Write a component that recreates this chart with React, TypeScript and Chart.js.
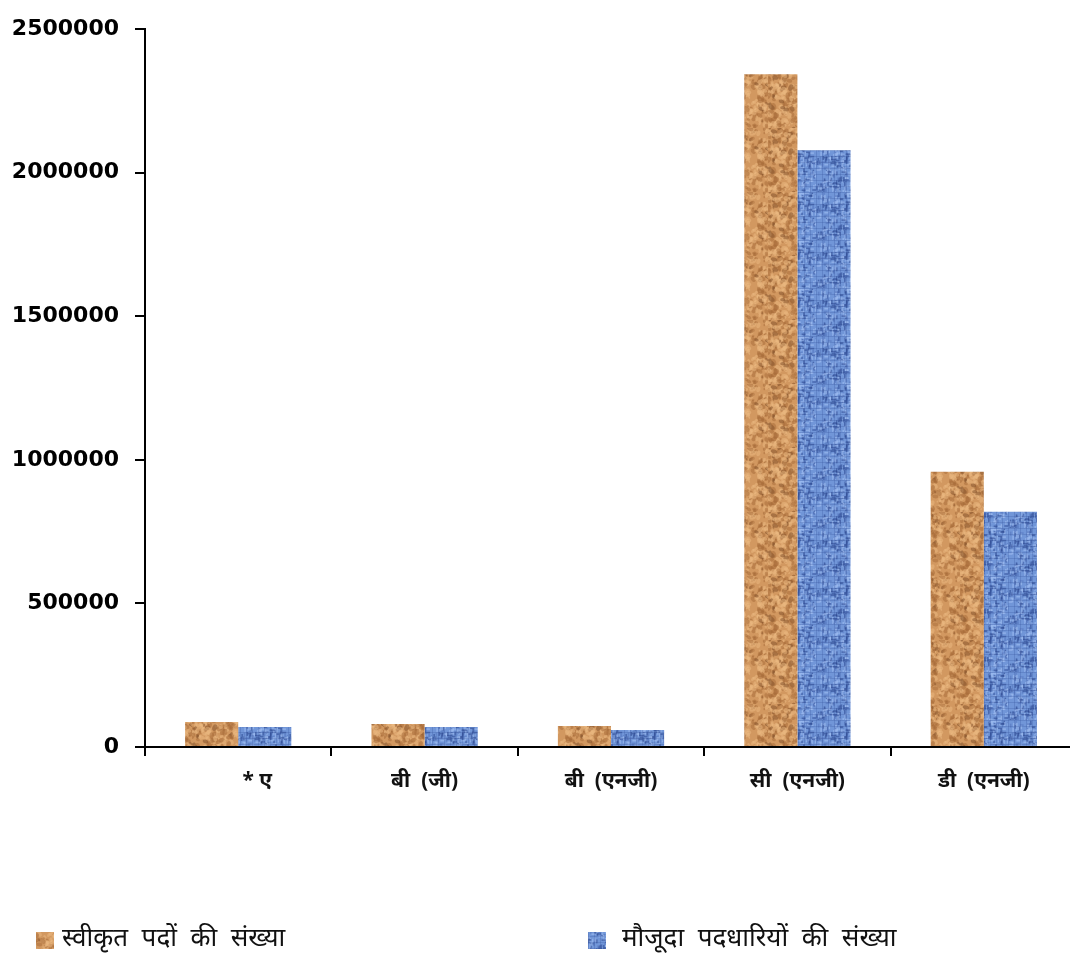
import React, { useEffect, useRef } from 'react';
import { Chart, registerables } from 'chart.js';

Chart.register(...registerables);

// categories and series
const categories = ['       * ए', 'बी  (जी)', 'बी  (एनजी)', 'सी  (एनजी)', 'डी  (एनजी)'];
const sanctionedPosts = [87000, 80000, 73000, 2343000, 959000];
const currentIncumbents = [70000, 70000, 59000, 2078000, 819000];
const seriesNames = ['स्वीकृत  पदों  की  संख्या', 'मौजूदा  पदधारियों  की  संख्या'];
const yTicks = [0, 500000, 1000000, 1500000, 2000000, 2500000];

const HINDI_FONT = "'Noto Sans', 'Lohit Devanagari', 'Noto Sans Devanagari', 'Liberation Sans', sans-serif";

// small deterministic hash for texture noise (styling only)
const hash = (x: number, y: number, s: number) => {
  let h = (x * 374761393 + y * 668265263 + s * 1442695041) | 0;
  h = (h ^ (h >>> 13)) * 1274126177;
  h = h ^ (h >>> 16);
  return ((h >>> 0) % 1000) / 1000;
};

// cork-like brown texture
function makeCork(): CanvasPattern | string {
  const c = document.createElement('canvas');
  c.width = 64;
  c.height = 64;
  const ctx = c.getContext('2d');
  if (!ctx) return '#d39b63';
  ctx.fillStyle = '#d29860';
  ctx.fillRect(0, 0, 64, 64);
  for (let i = 0; i < 420; i++) {
    const x = hash(i, 1, 3) * 64;
    const y = hash(i, 2, 5) * 64;
    const r = 0.8 + hash(i, 3, 7) * 1.6;
    const v = hash(i, 4, 9);
    ctx.fillStyle =
      v < 0.38 ? 'rgba(165,105,55,0.5)' : v < 0.48 ? 'rgba(125,75,38,0.5)' : 'rgba(236,186,130,0.5)';
    ctx.beginPath();
    ctx.ellipse(x, y, r * 1.5, r, hash(i, 5, 11) * 3, 0, Math.PI * 2);
    ctx.fill();
  }
  return ctx.createPattern(c, 'repeat') || '#d39b63';
}

// woven blue texture, mottled
function makeWeave(): CanvasPattern | string {
  const c = document.createElement('canvas');
  c.width = 48;
  c.height = 48;
  const ctx = c.getContext('2d');
  if (!ctx) return '#6f93d6';
  ctx.fillStyle = '#7196d8';
  ctx.fillRect(0, 0, 48, 48);
  for (let i = 0; i < 300; i++) {
    const x = hash(i, 7, 13) * 48;
    const y = hash(i, 8, 19) * 48;
    const v = hash(i, 9, 23);
    const horiz = hash(i, 10, 29) < 0.5;
    ctx.fillStyle = v < 0.35 ? 'rgba(40,68,140,0.55)' : v < 0.75 ? 'rgba(160,190,242,0.6)' : 'rgba(85,118,190,0.6)';
    if (horiz) ctx.fillRect(x, y, 4, 1.6);
    else ctx.fillRect(x, y, 1.6, 4);
  }
  // faint grid of the weave
  ctx.fillStyle = 'rgba(50,80,150,0.25)';
  for (let k = 0; k < 48; k += 6) {
    ctx.fillRect(k, 0, 1, 48);
    ctx.fillRect(0, k, 48, 1);
  }
  return ctx.createPattern(c, 'repeat') || '#6f93d6';
}

const App: React.FC = () => {
  const canvasRef = useRef<HTMLCanvasElement>(null);

  useEffect(() => {
    if (!canvasRef.current) return;
    const existing = Chart.getChart(canvasRef.current);
    if (existing) existing.destroy();

    const cork = makeCork();
    const weave = makeWeave();

    // legend drawn at fixed spots like the original
    const legendPlugin = {
      id: 'fixedLegend',
      afterDraw(chart: Chart) {
        const ctx = chart.ctx;
        ctx.save();
        const items = [
          { x: 36, gap: 26, fill: cork, text: seriesNames[0] },
          { x: 588, gap: 34, fill: weave, text: seriesNames[1] },
        ];
        items.forEach((it) => {
          ctx.fillStyle = it.fill as any;
          ctx.fillRect(it.x, 932, 18, 17);
          ctx.fillStyle = '#111';
          ctx.font = `26px ${HINDI_FONT}`;
          ctx.textBaseline = 'middle';
          ctx.fillText(it.text, it.x + it.gap, 939);
        });
        ctx.restore();
      },
    };

    const chart = new Chart(canvasRef.current, {
      type: 'bar',
      data: {
        labels: categories,
        datasets: [
          { label: seriesNames[0], data: sanctionedPosts, backgroundColor: cork as any, borderWidth: 0 },
          { label: seriesNames[1], data: currentIncumbents, backgroundColor: weave as any, borderWidth: 0 },
        ],
      },
      options: {
        animation: false,
        responsive: false,
        maintainAspectRatio: false,
        layout: { padding: { top: 29, right: 3, left: 0, bottom: 0 } },
        plugins: { legend: { display: false }, tooltip: { enabled: false } },
        datasets: { bar: { categoryPercentage: 0.57, barPercentage: 1 } },
        scales: {
          x: {
            grid: { drawOnChartArea: false, drawTicks: true, tickLength: 9, color: '#000', lineWidth: 2 },
            border: { display: true, color: '#000', width: 2 },
            ticks: {
              color: '#111',
              padding: 12,
              maxRotation: 0,
              font: { family: HINDI_FONT, size: 21, weight: 'bold' },
            },
            afterFit: (scale: any) => {
              scale.height = 209;
            },
          },
          y: {
            min: 0,
            max: 2500000,
            afterBuildTicks: (scale: any) => {
              scale.ticks = yTicks.map((v) => ({ value: v }));
            },
            grid: { drawOnChartArea: false, drawTicks: true, tickLength: 10, color: '#000', lineWidth: 2 },
            border: { display: true, color: '#000', width: 2 },
            ticks: {
              color: '#000',
              padding: 16,
              font: { family: "'DejaVu Sans', 'Liberation Sans', sans-serif", size: 22, weight: 'bold' },
              callback: (v: any) => String(v),
            },
            afterFit: (scale: any) => {
              scale.width = 145;
            },
          },
        },
      },
      plugins: [legendPlugin],
    });

    return () => {
      chart.destroy();
    };
  }, []);

  return (
    <div style={{ position: 'absolute', left: 0, top: 0, width: 1070, height: 956, overflow: 'hidden', background: '#fff' }}>
      <canvas ref={canvasRef} width={1080} height={956} style={{ width: 1080, height: 956 }} />
    </div>
  );
};

export default App;
